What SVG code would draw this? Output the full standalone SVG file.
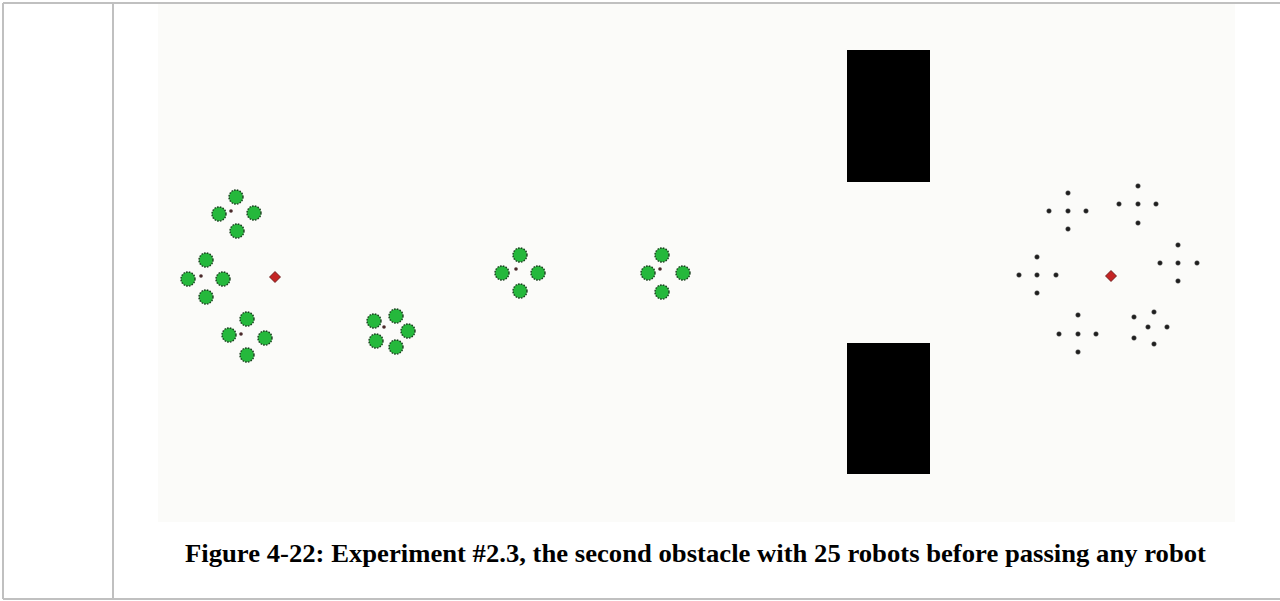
<svg xmlns="http://www.w3.org/2000/svg" width="1280" height="601" viewBox="0 0 1280 601">
<defs>
<style>
.frame{stroke:#c0c0c0;stroke-width:2;fill:none}
.bot{fill:#25b83c;stroke:#173d1c;stroke-width:1.4;stroke-dasharray:1.6 1.2}
.cdot{fill:#4a2a2a}
.pt{fill:#1e1e1e;stroke:#555;stroke-width:0.5}
.goal{fill:#c42424;stroke:#5a1010;stroke-width:0.8}
.obs{fill:#000}
.cap{font-family:"Liberation Serif","Times New Roman",serif;font-weight:bold;font-size:25px;fill:#000}
</style>
<g id="rb"><circle class="bot" r="7"/></g>
<g id="pt"><circle class="pt" r="2.3"/></g>
<g id="gl"><path class="goal" d="M0,-5.5 L5.5,0 L0,5.5 L-5.5,0 Z"/></g>
</defs>
<rect x="0" y="0" width="1280" height="601" fill="#fff"/>
<g id="frame">
<line class="frame" x1="3" y1="3" x2="1280" y2="3"/>
<line class="frame" x1="3" y1="3" x2="3" y2="599"/>
<line class="frame" x1="113" y1="3" x2="113" y2="599"/>
<line class="frame" x1="3" y1="599" x2="1280" y2="599"/>
</g>
<rect id="field" x="158" y="4" width="1077" height="518" fill="#fbfbf9"/>
<g id="obstacles">
<rect class="obs" x="847" y="50" width="83" height="132"/>
<rect class="obs" x="847" y="343" width="83" height="131"/>
</g>
<g id="group1">
<use href="#rb" x="236" y="197"/><use href="#rb" x="219" y="214"/><use href="#rb" x="254" y="213"/><use href="#rb" x="237" y="231"/>
<circle class="cdot" cx="231" cy="211" r="1.8"/>
</g>
<g id="group2">
<use href="#rb" x="206" y="260"/><use href="#rb" x="188" y="279"/><use href="#rb" x="223" y="279"/><use href="#rb" x="206" y="297"/>
<circle class="cdot" cx="201" cy="276" r="1.8"/>
</g>
<g id="group3">
<use href="#rb" x="247" y="319"/><use href="#rb" x="229" y="335"/><use href="#rb" x="265" y="338"/><use href="#rb" x="247" y="355"/>
<circle class="cdot" cx="241" cy="334" r="1.8"/>
</g>
<g id="goal-left"><use href="#gl" x="275" y="277"/></g>
<g id="group4">
<use href="#rb" x="374" y="321"/><use href="#rb" x="396" y="316"/><use href="#rb" x="408" y="331"/><use href="#rb" x="376" y="341"/><use href="#rb" x="396" y="347"/>
<circle class="cdot" cx="384" cy="327" r="1.8"/>
</g>
<g id="group5">
<use href="#rb" x="520" y="255"/><use href="#rb" x="502" y="273"/><use href="#rb" x="538" y="273"/><use href="#rb" x="520" y="291"/>
<circle class="cdot" cx="516" cy="269" r="1.8"/>
</g>
<g id="group6">
<use href="#rb" x="662" y="255"/><use href="#rb" x="648" y="273"/><use href="#rb" x="683" y="273"/><use href="#rb" x="662" y="292"/>
<circle class="cdot" cx="660" cy="269" r="1.8"/>
</g>
<g id="target-left-top">
<use href="#pt" x="1068" y="193"/><use href="#pt" x="1049" y="211"/><use href="#pt" x="1068" y="211"/><use href="#pt" x="1086" y="211"/><use href="#pt" x="1068" y="229"/>
</g>
<g id="target-right-top">
<use href="#pt" x="1138" y="186"/><use href="#pt" x="1119" y="204"/><use href="#pt" x="1138" y="204"/><use href="#pt" x="1156" y="204"/><use href="#pt" x="1138" y="223"/>
</g>
<g id="target-right">
<use href="#pt" x="1178" y="245"/><use href="#pt" x="1160" y="263"/><use href="#pt" x="1178" y="263"/><use href="#pt" x="1197" y="263"/><use href="#pt" x="1178" y="281"/>
</g>
<g id="target-left">
<use href="#pt" x="1037" y="257"/><use href="#pt" x="1019" y="275"/><use href="#pt" x="1037" y="275"/><use href="#pt" x="1056" y="275"/><use href="#pt" x="1037" y="293"/>
</g>
<g id="target-bottom-left">
<use href="#pt" x="1078" y="315"/><use href="#pt" x="1059" y="334"/><use href="#pt" x="1078" y="334"/><use href="#pt" x="1096" y="334"/><use href="#pt" x="1078" y="352"/>
</g>
<g id="target-bottom-right">
<use href="#pt" x="1154" y="312"/><use href="#pt" x="1134" y="317"/><use href="#pt" x="1148" y="327"/><use href="#pt" x="1167" y="327"/><use href="#pt" x="1134" y="338"/><use href="#pt" x="1154" y="344"/>
</g>
<g id="goal-right"><use href="#gl" x="1111" y="276"/></g>
<g id="caption">
<text class="cap" x="185" y="562" textLength="1021" lengthAdjust="spacingAndGlyphs">Figure 4-22: Experiment #2.3, the second obstacle with 25 robots before passing any robot</text>
</g>
</svg>
